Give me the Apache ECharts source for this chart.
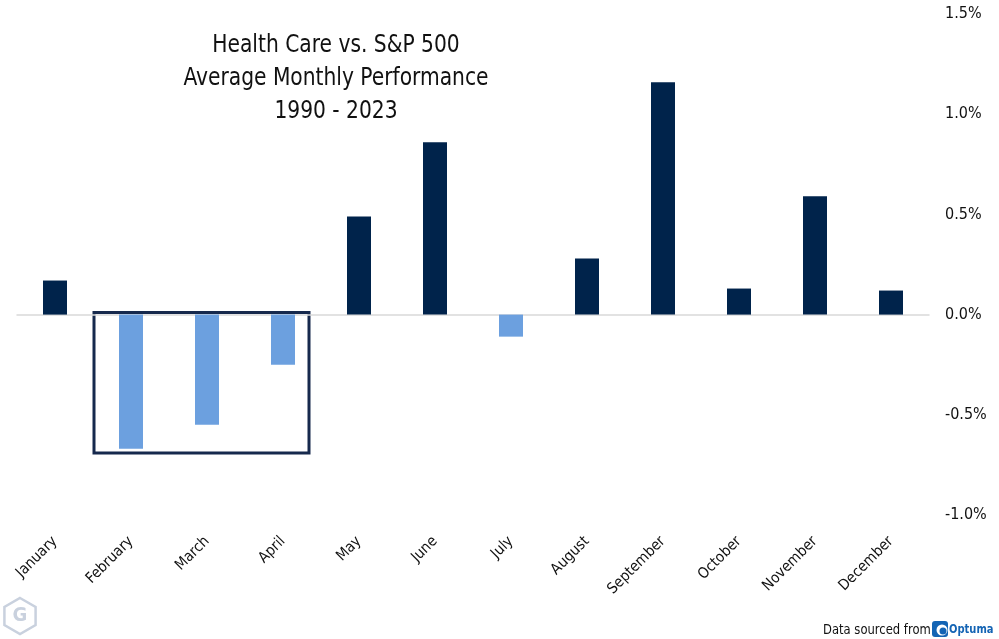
<!DOCTYPE html>
<html><head><meta charset="utf-8">
<script src="https://cdn.jsdelivr.net/npm/echarts@6/dist/echarts.min.js"></script>
<style>html,body{margin:0;padding:0;background:#fff}#c{width:999px;height:639px}</style>
</head><body><div id="c"></div>
<script>
const months = ['January','February','March','April','May','June','July','August','September','October','November','December'];
const values = [0.17,-0.67,-0.55,-0.25,0.49,0.86,-0.11,0.28,1.16,0.13,0.59,0.12];
const yTicks = [-1.0,-0.5,0.0,0.5,1.0,1.5];
const titleLines = ['Health Care vs. S&P 500','Average Monthly Performance','1990 - 2023'];
const boxRange = ['February','April'];
const boxMin = -0.69;

const FONT = "'DejaVu Sans Condensed','Liberation Sans Narrow','Roboto',sans-serif";
const NAVY = '#00234b', LIGHT = '#6ca0df';
const chart = echarts.init(document.getElementById('c'));
chart.setOption({
  animation:false,
  grid:{left:17,right:70,top:14,bottom:124},
  xAxis:{type:'category',data:months,
    axisLine:{onZero:true,lineStyle:{color:'#d9d9d9',width:1.5}},
    axisTick:{show:false},
    axisLabel:{rotate:45,interval:0,fontFamily:FONT,fontSize:15,color:'#111',margin:24}},
  yAxis:{type:'value',position:'right',min:yTicks[0],max:yTicks[yTicks.length-1],interval:0.5,
    splitLine:{show:false},axisLine:{show:false},axisTick:{show:false},
    axisLabel:{fontFamily:FONT,fontSize:16,color:'#111',margin:16,formatter:v=>v.toFixed(1)+'%'}},
  series:[{type:'bar',barWidth:24,
    data:values.map(v=>({value:v,itemStyle:{color:v>=0?NAVY:LIGHT}}))}]
});
function drawGraphics(){
  const xa = chart.convertToPixel({xAxisIndex:0},boxRange[0]);
  const xb = chart.convertToPixel({xAxisIndex:0},boxRange[1]);
  const y0 = chart.convertToPixel({yAxisIndex:0},0);
  const y1 = chart.convertToPixel({yAxisIndex:0},boxMin);
  const hx=20, hy=616, r=18;
  const hex=[];for(let i=0;i<6;i++){const a=Math.PI/180*(60*i-90);hex.push([hx+r*Math.cos(a),hy+r*Math.sin(a)]);}
  chart.setOption({graphic:[
    {type:'rect',shape:{x:xa-37,y:y0-2,width:(xb+26)-(xa-37),height:y1-y0+2},
      style:{fill:'none',stroke:'#16294d',lineWidth:3}},
    {type:'text',x:336,y:29,scaleX:0.9,style:{text:titleLines.join('\n'),x:0,y:0,align:'center',verticalAlign:'top',
      font:"25px "+FONT,fill:'#111',lineHeight:33}},
    {type:'polygon',shape:{points:hex},style:{fill:'none',stroke:'#c9d1de',lineWidth:2.5}},
    {type:'text',style:{text:'G',x:hx,y:hy,align:'center',verticalAlign:'middle',font:"bold 20px "+FONT,fill:'#c9d1de'}},
    {type:'text',x:823,y:630,scaleX:0.92,style:{text:'Data sourced from',x:0,y:0,verticalAlign:'middle',font:"14px "+FONT,fill:'#111'}},
    {type:'rect',shape:{x:932,y:621,width:16,height:16,r:3},style:{fill:'#1464b4'}},
    {type:'circle',shape:{cx:942,cy:630,r:5.5},style:{fill:'#fff'}},
    {type:'circle',shape:{cx:943,cy:631,r:3.5},style:{fill:'#1464b4'}},
    {type:'text',x:949,y:630,scaleX:0.85,style:{text:'Optuma',x:0,y:0,verticalAlign:'middle',font:"bold 13px "+FONT,fill:'#1464b4'}}
  ]});
}
drawGraphics();
</script></body></html>
